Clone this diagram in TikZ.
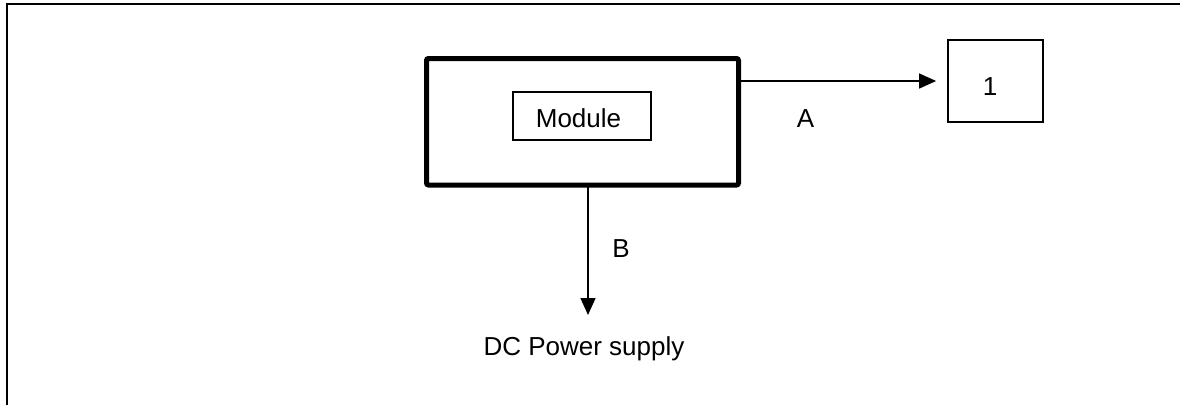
\documentclass[tikz,border=0pt]{standalone}
\usepackage{fontspec}
\setmainfont{Liberation Sans}
\usetikzlibrary{arrows.meta}
\begin{document}
\begin{tikzpicture}[x=1pt,y=-1pt,
  lbl/.style={font=\fontsize{26}{30}\selectfont, inner sep=0pt, anchor=base},
  thinbox/.style={draw, line width=1.6pt},
  arr/.style={line width=1.5pt, -{Triangle[length=17pt,width=15pt]}}]
\useasboundingbox (0,0) rectangle (1180,405);
% frame
\draw[line width=2.5pt] (7,405) -- (7,4) -- (1181,4);
% outer module box
\node[draw, line width=5pt, rounded corners=2pt, minimum width=312pt, minimum height=126.5pt, inner sep=0pt] (mod) at (582.5,121.75) {};
\node[thinbox, minimum width=138pt, minimum height=48pt, inner sep=0pt] (inner) at (582,116) {};
\node[lbl] (modt) at (578.5,127.7) {Module};
% box 1
\node[thinbox, line width=1.8pt, minimum width=95pt, minimum height=82pt, inner sep=0pt] (one) at (995.5,81) {};
\node[lbl] (onet) at (990,95) {1};
% labels
\node[lbl] (la) at (805.5,127) {A};
\node[lbl] (lb) at (621,257) {B};
\node[lbl] (dc) at (584,355) {DC Power supply};
% connectors
\draw[arr, shorten >=11pt] (mod.east |- one.west) -- (one.west);
\coordinate (bs) at (588,187);
\coordinate (be) at (588,315);
\draw[arr] (bs) -- (be);
\end{tikzpicture}
\end{document}
